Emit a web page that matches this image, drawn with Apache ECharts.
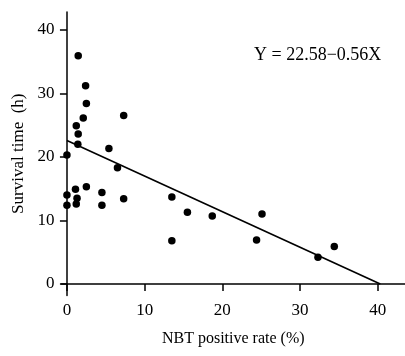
<!DOCTYPE html>
<html>
<head>
<meta charset="utf-8">
<script src="https://cdn.jsdelivr.net/npm/echarts@6/dist/echarts.min.js"></script>
<style>
  html, body { margin: 0; padding: 0; background: #fff; }
  #chart { width: 405px; height: 356px; }
</style>
</head>
<body>
<div id="chart"></div>
<script>
// NBT positive rate (%) for each patient
const nbtRate = [
  1.45, 2.4, 2.5, 2.1, 7.3, 1.2, 1.45, 1.4, 0.0, 5.4, 6.5,
  0.0, 0.0, 1.1, 1.3, 1.2, 2.5, 4.5, 4.5, 7.3,
  13.5, 15.5, 18.7, 13.5, 24.4, 25.1, 34.4, 32.3
];
// Survival time (h) for each patient
const survivalHours = [
  35.9, 31.2, 28.4, 26.1, 26.5, 24.9, 23.6, 22.0, 20.3, 21.3, 18.3,
  14.0, 12.4, 14.9, 13.5, 12.6, 15.3, 14.4, 12.4, 13.4,
  13.7, 11.3, 10.7, 6.8, 6.9, 11.0, 5.9, 4.2
];
// Fitted regression Y = a + bX
const intercept = 22.58;
const slope = -0.56;
const xTicks = [0, 10, 20, 30, 40];
const yTicks = [0, 10, 20, 30, 40];

const points = nbtRate.map((x, i) => [x, survivalHours[i]]);
const xCross = -intercept / slope;
const fitLine = [[0, intercept], [xCross, 0]];

const serif = '"Liberation Serif", "DejaVu Serif", serif';
const chart = echarts.init(document.getElementById('chart'), null, { renderer: 'canvas' });

const axisCommon = {
  type: 'value',
  splitLine: { show: false },
  axisLine: { show: true, onZero: true, lineStyle: { color: '#000', width: 1.5 } },
  axisTick: { show: true, length: 7, lineStyle: { color: '#000', width: 1.5 } },
  axisLabel: { color: '#000', fontFamily: serif, fontSize: 17 }
};

chart.setOption({
  animation: false,
  backgroundColor: '#fff',
  grid: { left: 61.5, right: 0, top: 12, bottom: 60.6, containLabel: false, outerBoundsMode: 'none' },
  xAxis: Object.assign({}, axisCommon, {
    min: -0.7,
    max: 43.5,
    axisTick: Object.assign({}, axisCommon.axisTick, { customValues: xTicks }),
    axisLabel: Object.assign({}, axisCommon.axisLabel, { customValues: xTicks, margin: 7 }),
    name: 'NBT positive rate (%)',
    nameLocation: 'middle',
    nameGap: 35,
    nameTextStyle: { color: '#000', fontFamily: serif, fontSize: 16 }
  }),
  yAxis: Object.assign({}, axisCommon, {
    min: -1.8,
    max: 42.8,
    axisTick: Object.assign({}, axisCommon.axisTick, { customValues: yTicks }),
    axisLabel: Object.assign({}, axisCommon.axisLabel, { customValues: yTicks, margin: 7 }),
    name: 'Survival time  (h)',
    nameLocation: 'middle',
    nameGap: 28,
    nameRotate: 90,
    nameTextStyle: { color: '#000', fontFamily: serif, fontSize: 17 }
  }),
  graphic: [{
    type: 'text',
    left: 254,
    top: 46,
    style: {
      text: 'Y = 22.58\u22120.56X',
      fill: '#000',
      font: '18px ' + serif
    }
  }],
  series: [
    {
      type: 'line',
      data: fitLine,
      showSymbol: false,
      lineStyle: { color: '#000', width: 1.6 },
      z: 2
    },
    {
      type: 'scatter',
      data: points,
      symbol: 'circle',
      symbolSize: 7.5,
      itemStyle: { color: '#000', opacity: 1 },
      z: 3
    }
  ]
});
</script>
</body>
</html>
